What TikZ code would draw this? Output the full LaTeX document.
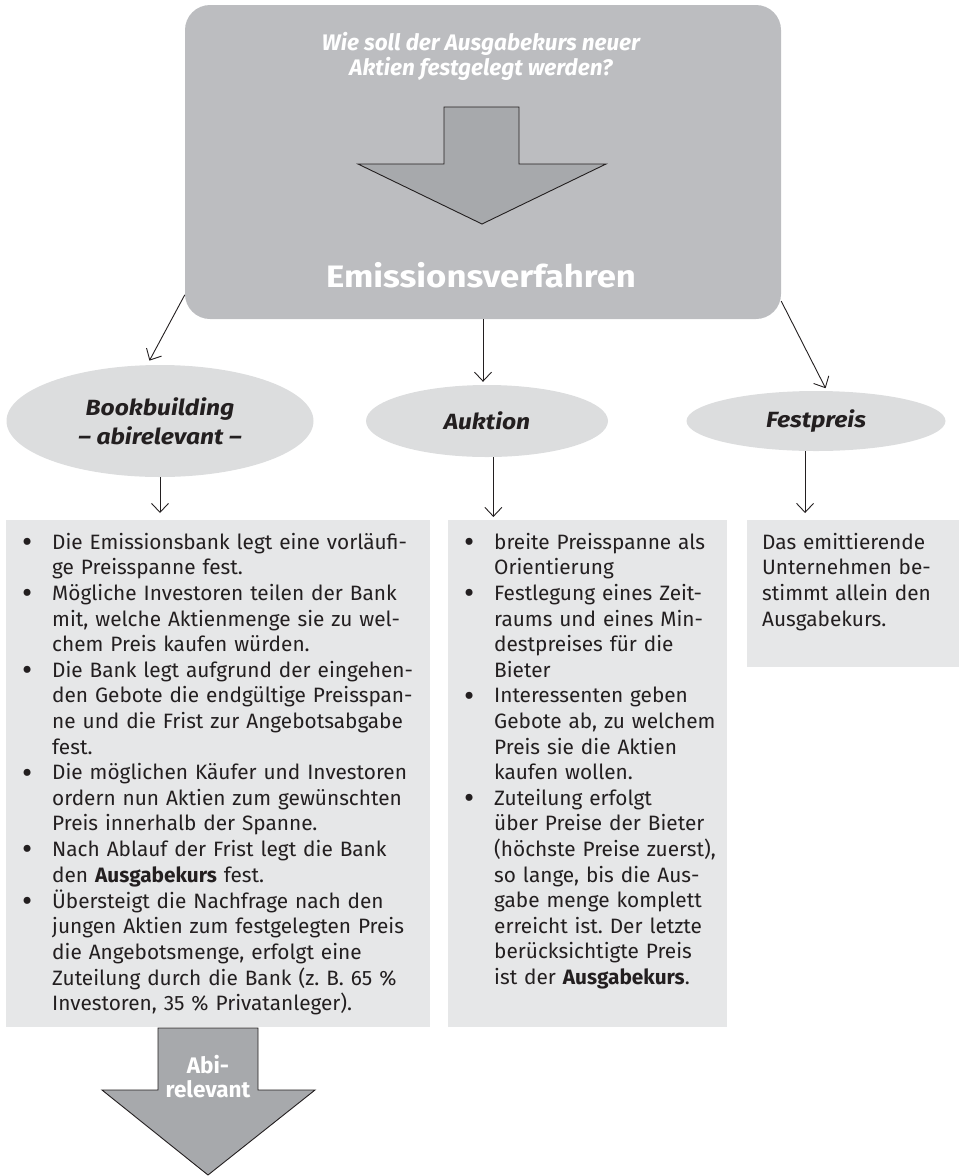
\documentclass[tikz,border=0pt]{standalone}
\usepackage{fontspec}
\setmainfont{Fira Sans}
\newfontfamily\widesans{Fira Sans}[FakeStretch=1.12]
\usepackage{tikz}
\usetikzlibrary{arrows.meta, shapes.geometric}
\definecolor{headgrey}{HTML}{BCBDC0}
\definecolor{arrowgrey}{HTML}{A7A9AC}
\definecolor{ovalgrey}{HTML}{DCDDDE}
\definecolor{boxgrey}{HTML}{E6E7E8}
\definecolor{inkdark}{HTML}{231F20}
\newcommand{\bodyfont}{\fontsize{20.8}{25.6}\selectfont}
\newcommand{\dotmark}{\raisebox{-0.17em}{\scalebox{1.5}{\textbullet}}}
\frenchspacing

\begin{document}
\begin{tikzpicture}[
    x=1pt, y=-1pt,
    headbox/.style={rectangle, rounded corners=25pt, fill=headgrey, minimum width=596pt, minimum height=314pt},
    oval/.style={ellipse, fill=ovalgrey, inner sep=0pt, text=inkdark, font=\widesans\fontsize{22}{29}\selectfont\bfseries\itshape, align=center},
    infobox/.style={rectangle, fill=boxgrey, anchor=north west, inner xsep=0pt, inner ysep=9pt, text height=20pt, text=inkdark, font=\bodyfont, align=left},
    bigarrow/.style={fill=arrowgrey, draw=inkdark, line width=0.9pt, line join=miter},
    link/.style={draw=inkdark, line width=0.9pt, -{Straight Barb[length=9pt, width=17pt]}}
]
    \useasboundingbox (0,0) rectangle (963,1176);

    % Head box
    \node[headbox] (verfahren) at (483,162) {};
    \node[text=white, font=\fontsize{22.5}{25}\selectfont\bfseries\itshape, align=center] (frage) at (481,56) {Wie soll der Ausgabekurs neuer\\Aktien festgelegt werden?};
    \draw[bigarrow] (444,107) -- (519,107) -- (519,164) -- (606,164) -- (482,224) -- (358,164) -- (444,164) -- cycle;
    \node[text=white, font=\widesans\fontsize{31}{36}\selectfont\bfseries, anchor=base] (titel) at (481,287) {Emissionsverfahren};

    % Procedures
    \node[oval, minimum width=307pt, minimum height=112pt] (book) at (160,421) {Bookbuilding\\– abirelevant –};
    \node[oval, minimum width=242pt, minimum height=72pt] (auk) at (487,421) {Auktion};
    \node[oval, minimum width=259pt, minimum height=60pt] (fest) at (816,421) {Festpreis};

    % Descriptions
    \node[infobox, text width=424pt, text depth=469pt] (bbBox) at (6,520) {\noindent\begin{tabular}[t]{@{\hspace{16pt}}p{30pt}@{}l@{}}
        \dotmark & Die Emissionsbank legt eine vorläufi-\\
         & ge Preisspanne fest.\\
        \dotmark & Mögliche Investoren teilen der Bank\\
         & mit, welche Aktienmenge sie zu wel-\\
         & chem Preis kaufen würden.\\
        \dotmark & Die Bank legt aufgrund der eingehen-\\
         & den Gebote die endgültige Preisspan-\\
         & ne und die Frist zur Angebotsabgabe\\
         & fest.\\
        \dotmark & Die möglichen Käufer und Investoren\\
         & ordern nun Aktien zum gewünschten\\
         & Preis innerhalb der Spanne.\\
        \dotmark & Nach Ablauf der Frist legt die Bank\\
         & den \textbf{Ausgabekurs} fest.\\
        \dotmark & Übersteigt die Nachfrage nach den\\
         & jungen Aktien zum festgelegten Preis\\
         & die Angebotsmenge, erfolgt eine\\
         & Zuteilung durch die Bank (z.~B. 65~\%\\
         & Investoren, 35~\% Privatanleger).
    \end{tabular}};
    \node[infobox, text width=279pt, text depth=469pt] (aukBox) at (448,520) {\noindent\begin{tabular}[t]{@{\hspace{16pt}}p{30pt}@{}l@{}}
        \dotmark & breite Preisspanne als\\
         & Orientierung\\
        \dotmark & Festlegung eines Zeit-\\
         & raums und eines Min-\\
         & destpreises für die\\
         & Bieter\\
        \dotmark & Interessenten geben\\
         & Gebote ab, zu welchem\\
         & Preis sie die Aktien\\
         & kaufen wollen.\\
        \dotmark & Zuteilung erfolgt\\
         & über Preise der Bieter\\
         & (höchste Preise zuerst),\\
         & so lange, bis die Aus-\\
         & gabe menge komplett\\
         & erreicht ist. Der letzte\\
         & berücksichtigte Preis\\
         & ist der \textbf{Ausgabekurs}.
    \end{tabular}};
    \node[infobox, text width=212pt, text depth=109pt] (fpBox) at (747,520) {\noindent\begin{tabular}[t]{@{\hspace{15pt}}l@{}}
        Das emittierende\\
        Unternehmen be-\\
        stimmt allein den\\
        Ausgabekurs.
    \end{tabular}};

    % Abi arrow
    \draw[bigarrow] (158,1028) -- (258,1028) -- (258,1090) -- (315,1090) -- (208,1175) -- (102,1090) -- (158,1090) -- cycle;
    \node[text=white, font=\fontsize{22.5}{24}\selectfont\bfseries, align=center] (abi) at (208,1077) {Abi-\\relevant};

    % Arrows
    \draw[link, shorten >=5pt] (verfahren.204) -- (book.103);
    \draw[link, shorten >=3pt] (verfahren.south) -- (verfahren.south |- auk.north);
    \draw[link, shorten >=3pt] (verfahren.335) -- (fest.70);
    \draw[link, shorten >=7pt] (book.south) -- (book.south |- bbBox.north);
    \draw[link, shorten >=3pt] (auk.280) -- (auk.280 |- aukBox.north);
    \draw[link, shorten >=7pt] (fest.250) -- (fest.250 |- fpBox.north);
\end{tikzpicture}
\end{document}
